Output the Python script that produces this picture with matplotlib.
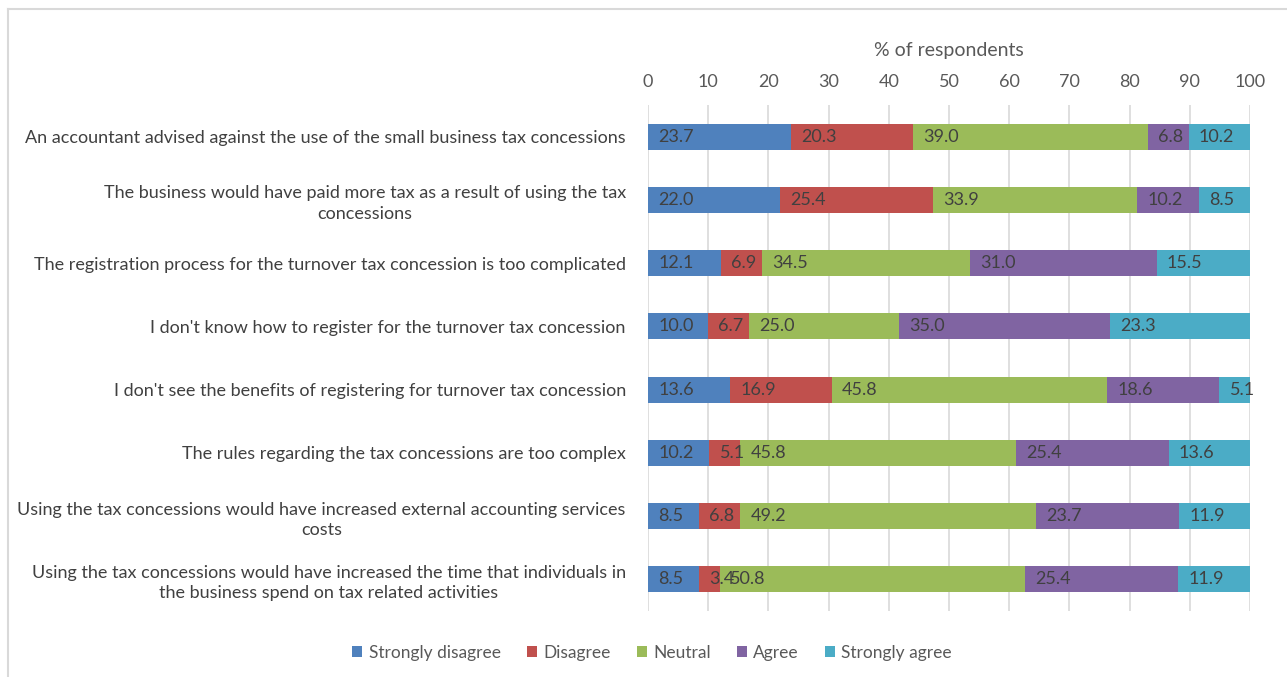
import matplotlib.pyplot as plt
from matplotlib.lines import Line2D
from matplotlib.patches import Patch

plt.rcParams['font.family'] = ['Lato', 'DejaVu Sans']

categories = [
    "An accountant advised against the use of the small business tax concessions",
    "The business would have paid more tax as a result of using the tax\nconcessions",
    "The registration process for the turnover tax concession is too complicated",
    "I don't know how to register for the turnover tax concession",
    "I don't see the benefits of registering for turnover tax concession",
    "The rules regarding the tax concessions are too complex",
    "Using the tax concessions would have increased external accounting services\ncosts",
    "Using the tax concessions would have increased the time that individuals in\nthe business spend on tax related activities",
]
series_names = ["Strongly disagree", "Disagree", "Neutral", "Agree", "Strongly agree"]
strongly_disagree = [23.7, 22.0, 12.1, 10.0, 13.6, 10.2, 8.5, 8.5]
disagree = [20.3, 25.4, 6.9, 6.7, 16.9, 5.1, 6.8, 3.4]
neutral = [39.0, 33.9, 34.5, 25.0, 45.8, 45.8, 49.2, 50.8]
agree = [6.8, 10.2, 31.0, 35.0, 18.6, 25.4, 23.7, 25.4]
strongly_agree = [10.2, 8.5, 15.5, 23.3, 5.1, 13.6, 11.9, 11.9]
x_ticks = [0, 10, 20, 30, 40, 50, 60, 70, 80, 90, 100]

series = [strongly_disagree, disagree, neutral, agree, strongly_agree]
colors = ["#4F81BD", "#C0504D", "#9BBB59", "#8064A2", "#4BACC6"]

W, H = 1287, 677
fig = plt.figure(figsize=(W / 100, H / 100), dpi=100)
ax = fig.add_axes([648 / W, 1 - 611 / H, (1250 - 648) / W, (611 - 105) / H])

ypos = list(range(len(categories)))
left = [0.0] * len(categories)
for vals, col in zip(series, colors):
    ax.barh(ypos, vals, left=left, height=0.41, color=col, zorder=3)
    for y, l, v in zip(ypos, left, vals):
        ax.text(l + 1.7, y, f"{v:.1f}", va='center', ha='left',
                fontsize=13, color='#404040', zorder=4)
    left = [a + b for a, b in zip(left, vals)]

ax.set_xlim(0, 100)
ax.set_ylim(len(categories) - 0.5, -0.5)
ax.set_xticks(x_ticks)
ax.xaxis.tick_top()
ax.xaxis.set_label_position('top')
ax.set_xlabel("% of respondents", fontsize=14, color='#595959', labelpad=13)
ax.tick_params(axis='x', length=0, labelsize=13, labelcolor='#595959', pad=11)
ax.set_yticks(ypos)
ax.set_yticklabels(categories, fontsize=13, color='#404040',
                   multialignment='center', linespacing=1.35)
ax.tick_params(axis='y', length=0, pad=16)
ax.grid(axis='x', color='#D9D9D9', linewidth=1.2, zorder=0)
for s in ax.spines.values():
    s.set_visible(False)

handles = [Patch(facecolor=c, edgecolor='none') for c in colors]
fig.legend(handles, series_names, loc='center', bbox_to_anchor=(652 / W, 1 - 653 / H),
           ncol=5, frameon=False, fontsize=12.5, handlelength=0.6, handleheight=0.6,
           handletextpad=0.35, columnspacing=1.5, labelcolor='#595959')

# chart frame (left and top edges)
fig.add_artist(Line2D([7.5 / W, 7.5 / W], [0, 1 - 9 / H], transform=fig.transFigure,
                      color='#D9D9D9', linewidth=1.5))
fig.add_artist(Line2D([7.5 / W, 1], [1 - 9 / H, 1 - 9 / H], transform=fig.transFigure,
                      color='#D9D9D9', linewidth=1.5))

fig.savefig("out.png", dpi=100, facecolor='white')
